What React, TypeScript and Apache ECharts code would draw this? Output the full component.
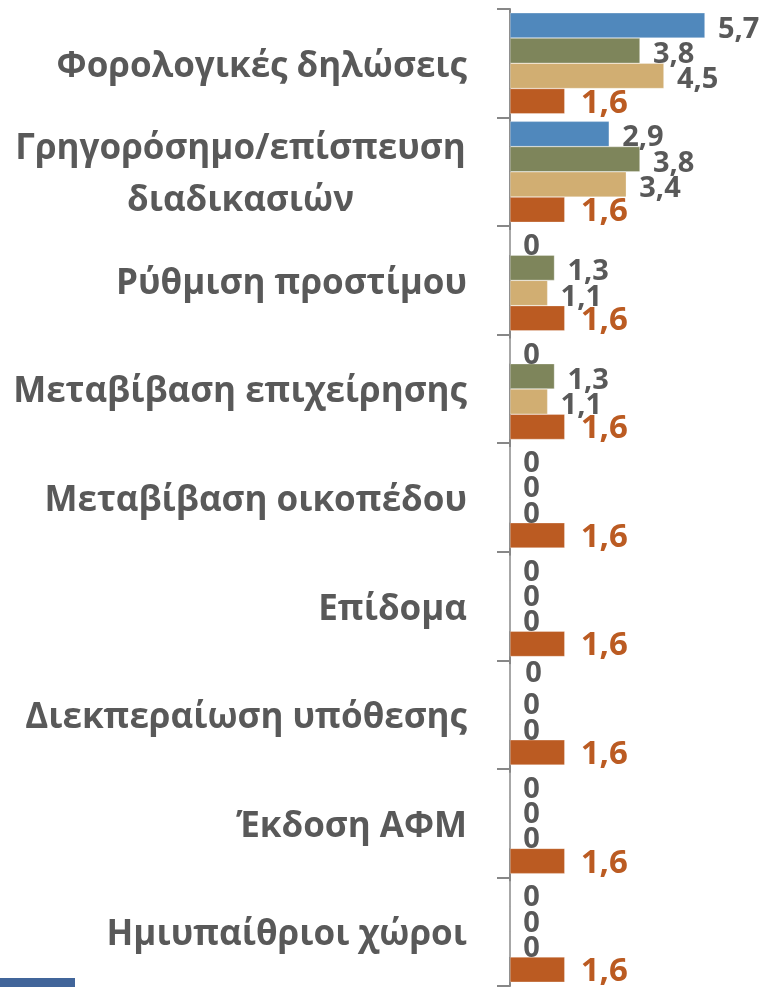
import React, { useEffect, useRef } from "react";
import * as echarts from "echarts";

const categories = [
  "Φορολογικές δηλώσεις",
  "Γρηγορόσημο/επίσπευση\nδιαδικασιών",
  "Ρύθμιση προστίμου",
  "Μεταβίβαση επιχείρησης",
  "Μεταβίβαση οικοπέδου",
  "Επίδομα",
  "Διεκπεραίωση υπόθεσης",
  "Έκδοση ΑΦΜ",
  "Ημιυπαίθριοι χώροι",
];
const blueValues = [5.7, 2.9, 0, 0, 0, 0, 0, 0, 0];
const greenValues = [3.8, 3.8, 1.3, 1.3, 0, 0, 0, 0, 0];
const tanValues = [4.5, 3.4, 1.1, 1.1, 0, 0, 0, 0, 0];
const orangeValues = [1.6, 1.6, 1.6, 1.6, 1.6, 1.6, 1.6, 1.6, 1.6];

const FONT = '"Open Sans", "Noto Sans", sans-serif';
const GRAY = "#595959";
const CAT_SIZE = 35;

function measure(text: string, size: number): number {
  const c = document.createElement("canvas");
  const ctx = c.getContext("2d");
  if (!ctx) return text.length * size * 0.6;
  ctx.font = `bold ${size}px ${FONT}`;
  return ctx.measureText(text).width;
}

const fmt = (p: any) => String(p.value).replace(".", ",");

export default function App() {
  const ref = useRef<HTMLDivElement>(null);
  useEffect(() => {
    if (!ref.current) return;
    const chart = echarts.init(ref.current, undefined, { renderer: "svg" });
    const lineW = Math.ceil(measure("Γρηγορόσημο/επίσπευση", CAT_SIZE)) + 2;
    const grayLabel = {
      show: true,
      position: "right",
      distance: 13,
      offset: [0, 1],
      formatter: fmt,
      color: GRAY,
      fontSize: 29,
      fontWeight: "bold",
      fontFamily: FONT,
    };
    const blueData = blueValues.map((v, i) =>
      i === 6 ? { value: v, label: { offset: [2, -6] } } : v
    );
    chart.setOption({
      animation: false,
      grid: { left: 510, right: 13.6, top: 9, bottom: 1, containLabel: false },
      xAxis: { type: "value", min: 0, max: 7, show: false },
      yAxis: {
        type: "category",
        data: categories,
        inverse: true,
        axisLine: { show: true, lineStyle: { color: "#878787", width: 2 } },
        axisTick: { show: true, length: 13, lineStyle: { color: "#878787", width: 2 } },
        axisLabel: {
          interval: 0,
          margin: 43,
          color: GRAY,
          fontSize: CAT_SIZE,
          fontWeight: "bold",
          fontFamily: FONT,
          lineHeight: 52,
          formatter: (v: string) =>
            v.includes("\n")
              ? v
                  .split("\n")
                  .map((l) => `{c|${l}}`)
                  .join("\n")
              : v,
          rich: {
            c: {
              width: lineW,
              align: "center",
              color: GRAY,
              fontSize: CAT_SIZE,
              fontWeight: "bold",
              fontFamily: FONT,
              lineHeight: 52,
            },
          },
        },
        splitLine: { show: false },
      },
      series: [
        {
          type: "bar",
          data: blueData,
          barGap: "0%",
          barCategoryGap: "7%",
          itemStyle: { color: "#5088BC", borderColor: "rgba(255,255,255,0.6)", borderWidth: 0.5 },
          label: grayLabel,
        },
        {
          type: "bar",
          data: greenValues,
          barGap: "0%",
          barCategoryGap: "7%",
          itemStyle: { color: "#7E855B", borderColor: "rgba(255,255,255,0.6)", borderWidth: 0.5 },
          label: grayLabel,
        },
        {
          type: "bar",
          data: tanValues,
          barGap: "0%",
          barCategoryGap: "7%",
          itemStyle: { color: "#D1AE72", borderColor: "rgba(255,255,255,0.6)", borderWidth: 0.5 },
          label: grayLabel,
        },
        {
          type: "bar",
          data: orangeValues,
          barGap: "0%",
          barCategoryGap: "7%",
          itemStyle: { color: "#BB5B22", borderColor: "rgba(255,255,255,0.6)", borderWidth: 0.5 },
          label: {
            show: true,
            position: "right",
            distance: 16,
            offset: [0, -1],
            formatter: fmt,
            color: "#BB5B22",
            fontSize: 33,
            fontWeight: "bold",
            fontFamily: FONT,
          },
        },
      ],
      graphic: [
        {
          type: "rect",
          left: 0,
          top: 978,
          shape: { width: 75, height: 9 },
          style: { fill: "#41659A" },
        },
      ],
    });
    return () => chart.dispose();
  }, []);
  return (
    <div
      ref={ref}
      style={{ position: "fixed", left: 0, top: 0, width: 763, height: 987 }}
    />
  );
}
